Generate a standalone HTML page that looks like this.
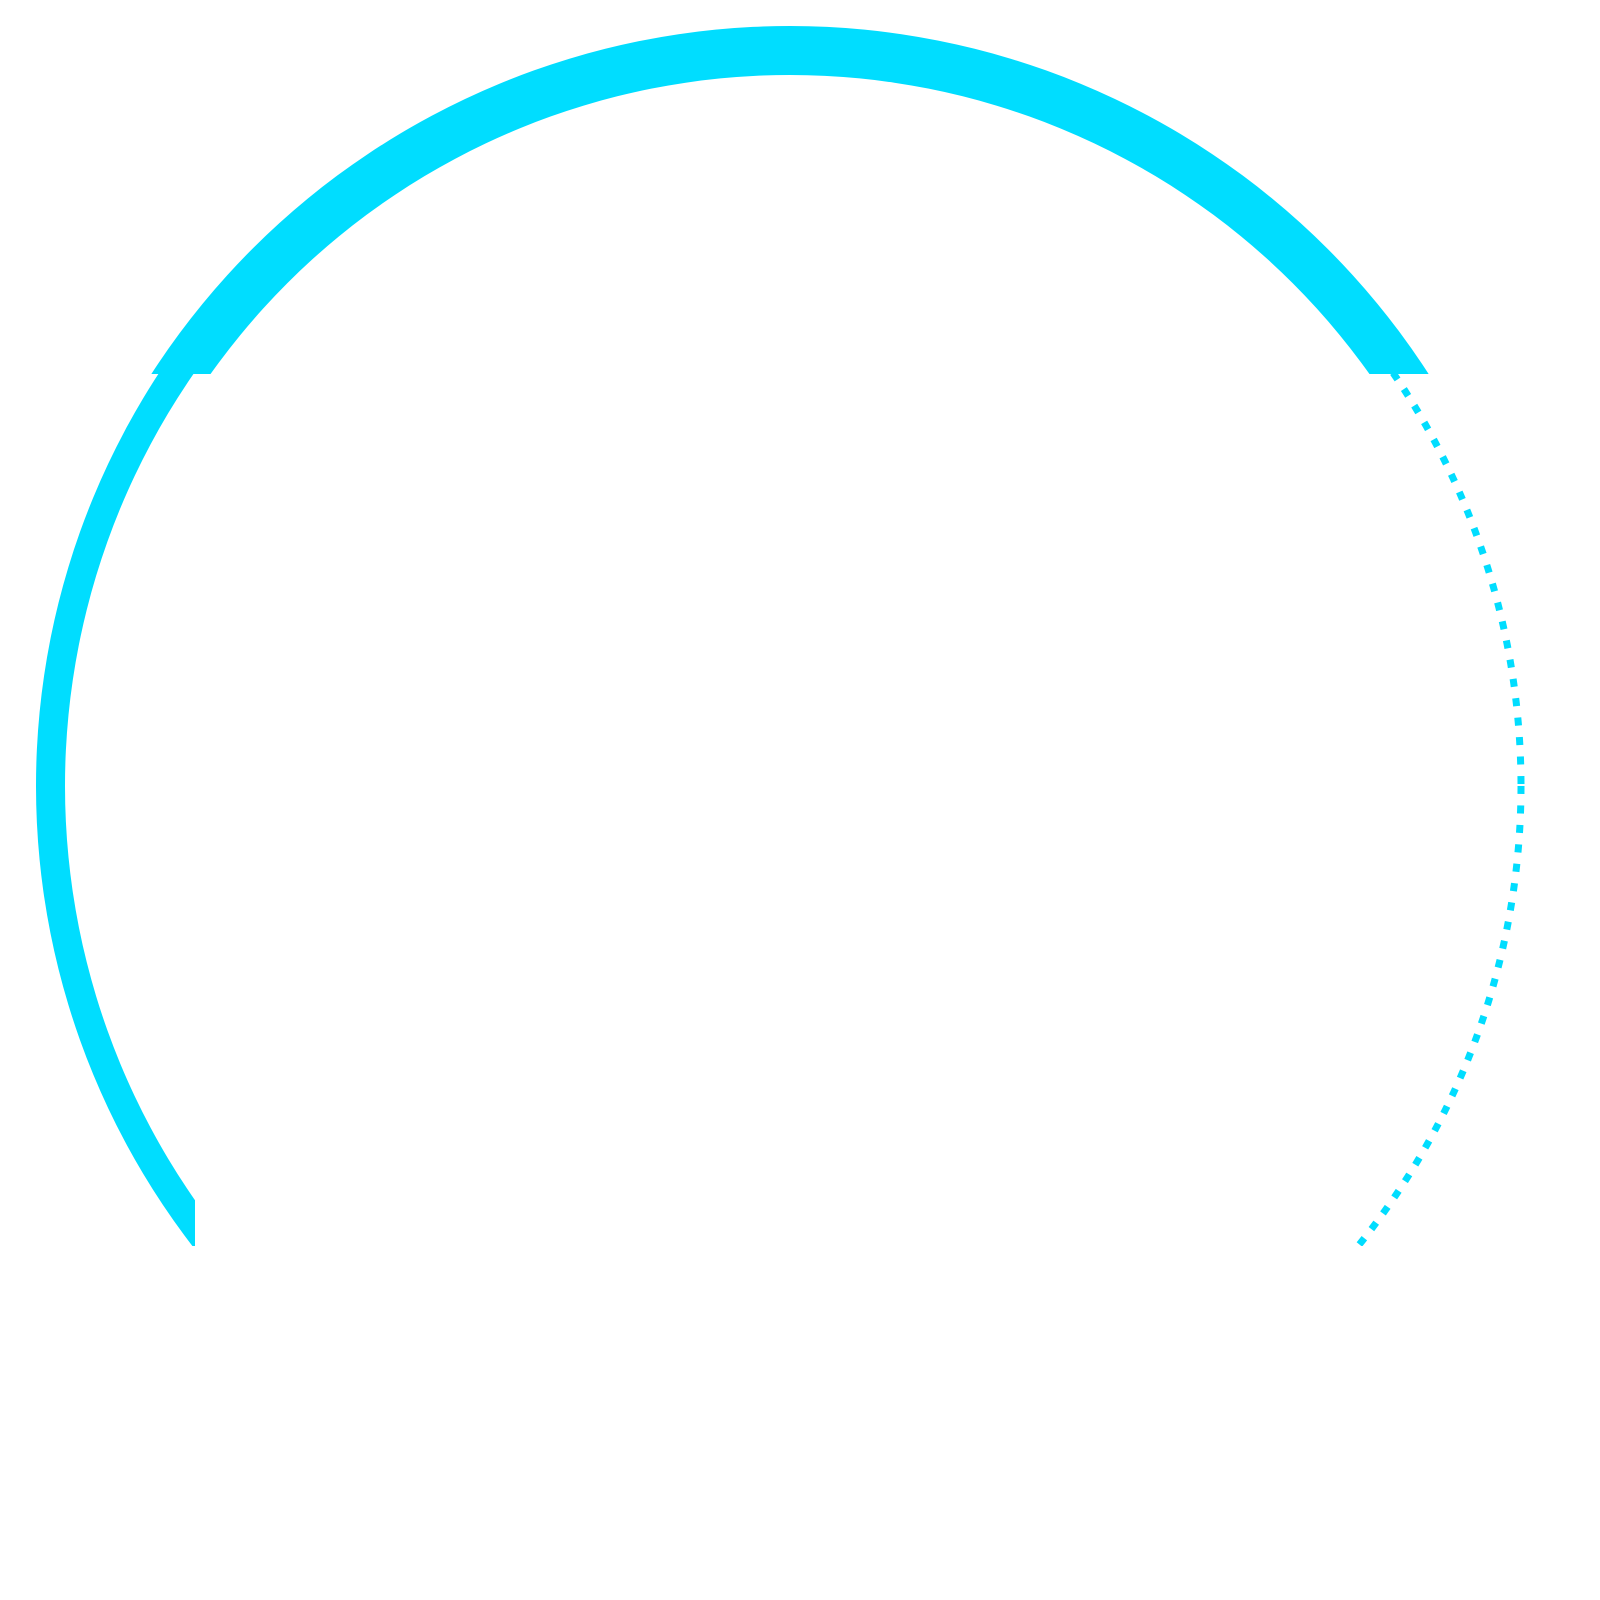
<!DOCTYPE html>
<html><head><meta charset="utf-8"><style>
html,body{margin:0;padding:0;background:#fff;width:1600px;height:1600px;overflow:hidden}
</style></head><body>
<svg id="chart" width="1600" height="1600" viewBox="0 0 1600 1600" xmlns="http://www.w3.org/2000/svg">
<defs>
<clipPath id="clipTop"><rect x="0" y="0" width="1600" height="374"/></clipPath>
<clipPath id="clipLeft"><rect x="0" y="374" width="195" height="872"/></clipPath>
<clipPath id="clipRight"><rect x="1345" y="374" width="255" height="872"/></clipPath>
</defs>
</svg>
<script>
const ringNames = ['top-band', 'left-arc', 'right-dotted-arc'];
const ringOuter = [760, 754, 731];
const ringInner = [711, 725, 731];
const ringClip = ['clipTop', 'clipLeft', 'clipRight'];
const ringDotted = [false, false, true];
const cx = 790, cy = 786;
const color = '#00DDFF';
const svg = document.getElementById('chart');
const NS = 'http://www.w3.org/2000/svg';
for (let i = 0; i < ringNames.length; i++) {
  let el;
  if (ringDotted[i]) {
    el = document.createElementNS(NS, 'circle');
    el.setAttribute('cx', cx); el.setAttribute('cy', cy);
    el.setAttribute('r', ringOuter[i]);
    el.setAttribute('fill', 'none');
    el.setAttribute('stroke', color);
    el.setAttribute('stroke-width', 7);
    el.setAttribute('stroke-dasharray', '8 11.5');
  } else {
    const ro = ringOuter[i], ri = ringInner[i];
    const d = `M${cx - ro},${cy} A${ro},${ro} 0 1,0 ${cx + ro},${cy} A${ro},${ro} 0 1,0 ${cx - ro},${cy} Z ` +
              `M${cx - ri},${cy} A${ri},${ri} 0 1,1 ${cx + ri},${cy} A${ri},${ri} 0 1,1 ${cx - ri},${cy} Z`;
    el = document.createElementNS(NS, 'path');
    el.setAttribute('d', d);
    el.setAttribute('fill', color);
    el.setAttribute('fill-rule', 'evenodd');
  }
  el.setAttribute('clip-path', 'url(#' + ringClip[i] + ')');
  
  
  svg.appendChild(el);
}
</script>
</body></html>
